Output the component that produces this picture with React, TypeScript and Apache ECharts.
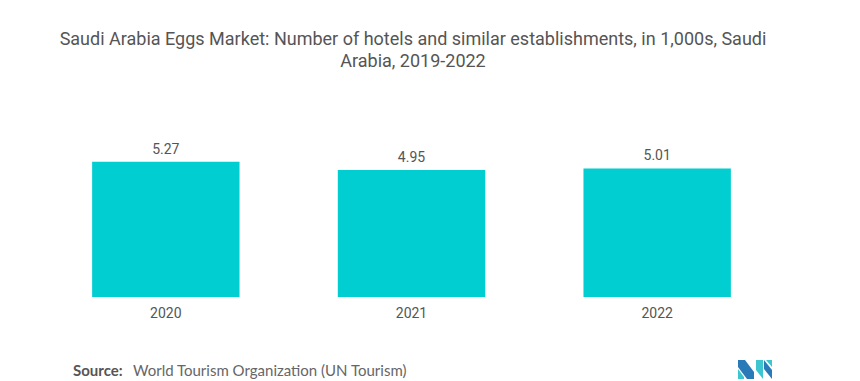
import React, { useEffect, useRef } from "react";
import * as echarts from "echarts";

const categories = ["2020", "2021", "2022"];
const values = [5.27, 4.95, 5.01];
const titleText =
  "Saudi Arabia Eggs Market: Number of hotels and similar establishments, in 1,000s, Saudi\nArabia, 2019-2022";
const sourceLabel = "Source:";
const sourceText = "World Tourism Organization (UN Tourism)";

export default function App() {
  const ref = useRef<HTMLDivElement>(null);
  useEffect(() => {
    document.body.style.margin = "0";
    if (!ref.current) return;
    const chart = echarts.init(ref.current, null, { renderer: "svg" });
    chart.setOption({
      animation: false,
      backgroundColor: "#ffffff",
      grid: { left: 43, right: 80, top: 143, bottom: 84, containLabel: false },
      xAxis: {
        type: "category",
        data: categories,
        axisLine: { show: false },
        axisTick: { show: false },
        axisLabel: {
          fontFamily: "Roboto",
          fontSize: 14,
          color: "#555555",
          margin: 9,
        },
      },
      yAxis: {
        type: "value",
        min: 0,
        max: 6,
        show: false,
        splitLine: { show: false },
      },
      series: [
        {
          type: "bar",
          data: values,
          barWidth: "60%",
          itemStyle: { color: "#00CED1" },
          label: {
            show: true,
            position: "top",
            distance: 6,
            fontFamily: "Roboto",
            fontSize: 14,
            color: "#555555",
            formatter: (p: any) => p.value.toFixed(2),
          },
        },
      ],
      graphic: [
        {
          type: "text",
          x: 413,
          y: 27,
          style: {
            text: titleText,
            textAlign: "center",
            textVerticalAlign: "top",
            fontFamily: "Roboto",
            fontSize: 18,
            lineHeight: 22,
            fill: "#555555",
          },
        },
        {
          type: "text",
          left: 73,
          top: 362,
          style: {
            text: sourceLabel,
            fontFamily: "Lato",
            fontWeight: "bold",
            fontSize: 15,
            fill: "#555555",
          },
        },
        {
          type: "text",
          left: 133,
          top: 362,
          style: {
            text: sourceText,
            fontFamily: "Lato",
            fontSize: 15,
            fill: "#666666",
          },
        },
        {
          type: "group",
          left: 738,
          top: 360,
          children: [
            {
              type: "polygon",
              shape: { points: [[0, 0], [7, 0], [16, 12], [16, 19], [9, 19], [0, 7]] },
              style: { fill: "#2A7AB8" },
            },
            {
              type: "polygon",
              shape: { points: [[0, 9], [6, 17], [6, 19], [0, 19]] },
              style: { fill: "#3DC6CF" },
            },
            {
              type: "polygon",
              shape: { points: [[18, 0], [25, 0], [25, 19], [18, 10]] },
              style: { fill: "#3DC6CF" },
            },
            {
              type: "polygon",
              shape: { points: [[26, 0], [34, 10], [34, 19], [26, 9]] },
              style: { fill: "#2A7AB8" },
            },
            {
              type: "polygon",
              shape: { points: [[28, 0], [34, 0], [34, 7]] },
              style: { fill: "#3DC6CF" },
            },
          ],
        },
      ],
    });
    return () => chart.dispose();
  }, []);
  return <div ref={ref} style={{ width: 860, height: 381 }} />;
}
